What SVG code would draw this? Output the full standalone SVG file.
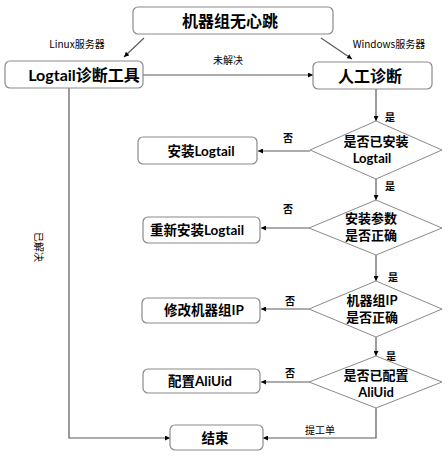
<svg xmlns="http://www.w3.org/2000/svg" width="448" height="456" viewBox="0 0 448 456">
<style>
.box{fill:#fff;stroke:#8a8a8a;stroke-width:1.2}
.dia{fill:#fff;stroke:#8a8a8a;stroke-width:1}
.t{font-family:"Lato","Noto Sans CJK SC",sans-serif;font-weight:bold;fill:#000;text-anchor:middle}
.big{font-size:16px}
.mid{font-size:13.5px}
.dt{font-size:13px}
.lab{font-family:"Noto Sans CJK SC","Noto Sans",sans-serif;font-size:10px;fill:#000;text-anchor:middle}
.b{font-weight:bold}
.c{fill:none;stroke:#5a5a5a;stroke-width:1.2}
</style>
<defs>
<marker id="ah" viewBox="0 0 6 6" refX="6" refY="3" markerWidth="5" markerHeight="5" orient="auto" markerUnits="userSpaceOnUse">
<path d="M0,0 L6,3 L0,6 z" fill="#000"/>
</marker>
</defs>
<rect width="448" height="456" fill="#fff"/>
<g id="connectors">
<line class="c" x1="144" y1="38" x2="124" y2="57" marker-end="url(#ah)"/>
<line class="c" x1="321" y1="38" x2="352" y2="59" marker-end="url(#ah)"/>
<line class="c" x1="143" y1="75" x2="313" y2="75" marker-end="url(#ah)"/>
<line class="c" x1="376" y1="89" x2="376" y2="121" marker-end="url(#ah)"/>
<line class="c" x1="310" y1="151" x2="258" y2="151" marker-end="url(#ah)"/>
<line class="c" x1="376" y1="179" x2="376" y2="200" marker-end="url(#ah)"/>
<line class="c" x1="309" y1="228" x2="261" y2="228" marker-end="url(#ah)"/>
<line class="c" x1="376" y1="255" x2="376" y2="281" marker-end="url(#ah)"/>
<line class="c" x1="309" y1="309" x2="261" y2="309" marker-end="url(#ah)"/>
<line class="c" x1="376" y1="337" x2="376" y2="356" marker-end="url(#ah)"/>
<line class="c" x1="309" y1="382" x2="261" y2="382" marker-end="url(#ah)"/>
<polyline class="c" points="376,408 376,438 263,438" marker-end="url(#ah)"/>
<polyline class="c" points="69,88 69,438 170,438" marker-end="url(#ah)"/>
<text class="lab" x="77" y="48">Linux服务器</text>
<text class="lab" x="389" y="48">Windows服务器</text>
<text class="lab" x="228" y="64">未解决</text>
<text class="lab" transform="translate(35,247) rotate(90)">已解决</text>
<text class="lab b" x="390" y="121">是</text>
<text class="lab b" x="390" y="190">是</text>
<text class="lab b" x="393" y="281">是</text>
<text class="lab b" x="391" y="360">是</text>
<text class="lab b" x="288" y="142">否</text>
<text class="lab b" x="288" y="213">否</text>
<text class="lab b" x="290" y="305">否</text>
<text class="lab b" x="290" y="377">否</text>
<text class="lab" x="320" y="434">提工单</text>
</g>
<g id="start">
<rect class="box" x="133" y="7" width="200" height="27" rx="5"/>
<text class="t big" x="230" y="26.5">机器组无心跳</text>
</g>
<g id="logtail-tool">
<rect class="box" x="5" y="61" width="138" height="27" rx="5"/>
<text class="t big" x="84" y="80.5">Logtail诊断工具</text>
</g>
<g id="manual">
<rect class="box" x="313" y="62" width="119" height="27" rx="5"/>
<text class="t big" x="370" y="81.5">人工诊断</text>
</g>
<g id="d1">
<polygon class="dia" points="376,121 442,150 376,179 310,150"/>
<text class="t dt" x="376" y="146">是否已安装</text>
<text class="t dt" x="372" y="163">Logtail</text>
</g>
<g id="install">
<rect class="box" x="138" y="137" width="119" height="27" rx="5"/>
<text class="t mid" x="201" y="155.5">安装Logtail</text>
</g>
<g id="d2">
<polygon class="dia" points="376,200 442,228 376,255 309,228"/>
<text class="t dt" x="371" y="223">安装参数</text>
<text class="t dt" x="371" y="240">是否正确</text>
</g>
<g id="reinstall">
<rect class="box" x="143" y="217" width="117" height="26" rx="5"/>
<text class="t mid" x="197" y="234.5">重新安装Logtail</text>
</g>
<g id="d3">
<polygon class="dia" points="376,281 442,309 376,337 309,309"/>
<text class="t dt" x="372" y="305">机器组IP</text>
<text class="t dt" x="372" y="322">是否正确</text>
</g>
<g id="fixip">
<rect class="box" x="142" y="298" width="118" height="25" rx="5"/>
<text class="t mid" x="204" y="315">修改机器组IP</text>
</g>
<g id="d4">
<polygon class="dia" points="376,356 442,382 376,408 309,382"/>
<text class="t dt" x="376" y="380">是否已配置</text>
<text class="t dt" x="376" y="396.5">AliUid</text>
</g>
<g id="aliuid">
<rect class="box" x="143" y="369" width="117" height="24" rx="5"/>
<text class="t mid" x="200" y="386">配置AliUid</text>
</g>
<g id="end">
<rect class="box" x="170" y="425" width="93" height="25" rx="5"/>
<text class="t mid" x="215" y="442.5">结束</text>
</g>
</svg>
